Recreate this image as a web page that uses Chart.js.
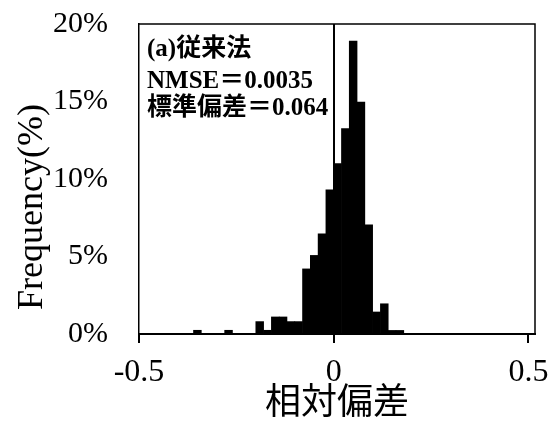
<!DOCTYPE html>
<html>
<head>
<meta charset="utf-8">
<script src="https://cdn.jsdelivr.net/npm/chart.js@4/dist/chart.umd.min.js"></script>
<style>
  html, body { margin: 0; padding: 0; background: #fff; }
  #wrap { width: 548px; height: 426px; }
</style>
</head>
<body>
<div id="wrap"><canvas id="c" width="548" height="426"></canvas></div>
<script>
// Histogram of relative deviation, bins of width 0.02 (centre values)
const binCenters = [-0.35, -0.33, -0.31, -0.29, -0.27, -0.25, -0.23, -0.21, -0.19, -0.17,
                    -0.15, -0.13, -0.11, -0.09, -0.07, -0.05, -0.03, -0.01,
                     0.01,  0.03,  0.05,  0.07,  0.09,  0.11,  0.13,  0.15,  0.17];
// Frequency in percent for each bin
const frequency = [0.24, 0, 0, 0, 0.24, 0, 0, 0, 0.8, 0.24,
                   1.1, 1.1, 0.8, 0.8, 4.2, 5.07, 6.47, 9.3,
                   11.0, 13.25, 18.9, 14.97, 7.05, 1.42, 1.95, 0.23, 0.23];
const xTicks = [-0.5, 0, 0.5];
const yTicks = [0, 5, 10, 15, 20];
const xTitle = '相対偏差';
const yTitle = 'Frequency(%)';
const noteLines = ['(a)従来法', 'NMSE＝0.0035', '標準偏差＝0.064'];

const SERIF = '"Liberation Serif", "Times New Roman", serif';
const CJK = '"Noto Sans CJK JP", "Noto Sans CJK SC", sans-serif';

// Frame (top/right edges), rotated y title and the note block
const decorations = {
  id: 'decorations',
  afterDraw(chart) {
    const { ctx, chartArea: a } = chart;
    ctx.save();
    ctx.strokeStyle = '#000';
    ctx.lineWidth = 1.5;
    ctx.beginPath();
    ctx.moveTo(a.left, a.top);
    ctx.lineTo(a.right, a.top);
    ctx.lineTo(a.right, a.bottom);
    ctx.stroke();

    // y axis title
    ctx.fillStyle = '#000';
    ctx.font = '36px ' + SERIF;
    ctx.textAlign = 'center';
    ctx.textBaseline = 'middle';
    ctx.translate(33, (a.top + a.bottom) / 2 + 28);
    ctx.rotate(-Math.PI / 2);
    ctx.fillText(yTitle, 0, 0);
    ctx.restore();

    // note block in the upper-left corner
    ctx.save();
    ctx.fillStyle = '#000';
    ctx.font = 'bold 25px ' + SERIF + ', ' + CJK;
    ctx.textAlign = 'left';
    ctx.textBaseline = 'alphabetic';
    const offsets = [32, 64, 91];
    noteLines.forEach((t, i) => ctx.fillText(t, a.left + 8, a.top + offsets[i]));
    ctx.restore();
  }
};

new Chart(document.getElementById('c'), {
  type: 'bar',
  data: {
    datasets: [{
      data: binCenters.map((x, i) => ({ x: x, y: frequency[i] })),
      backgroundColor: '#000',
      borderWidth: 0,
      barPercentage: 1,
      categoryPercentage: 1
    }]
  },
  options: {
    responsive: false,
    animation: false,
    devicePixelRatio: 1,
    layout: { padding: { top: 24, right: 13, left: 0, bottom: 0 } },
    plugins: { legend: { display: false }, tooltip: { enabled: false } },
    scales: {
      x: {
        type: 'linear',
        min: -0.5,
        max: 0.517,
        offset: false,
        afterBuildTicks: s => { s.ticks = xTicks.map(v => ({ value: v })); },
        afterFit: s => { s.height = 92; s.paddingLeft = 0; s.paddingRight = 0; },
        ticks: {
          color: '#000',
          font: { family: SERIF, size: 32 },
          padding: 10,
          maxRotation: 0,
          autoSkip: false,
          callback: v => String(v)
        },
        grid: {
          offset: false,
          color: c => (c.tick && c.tick.value === 0 ? '#000' : 'rgba(0,0,0,0)'),
          lineWidth: 2,
          drawTicks: true,
          tickLength: 9,
          tickColor: '#000',
          tickWidth: 2
        },
        border: { display: true, color: '#000', width: 2 },
        title: {
          display: true,
          text: xTitle,
          color: '#000',
          font: { family: CJK, size: 36 },
          padding: { top: 0, bottom: 4 }
        }
      },
      y: {
        min: 0,
        max: 20,
        afterBuildTicks: s => { s.ticks = yTicks.map(v => ({ value: v })); },
        afterFit: s => { s.width = 139; s.paddingTop = 0; s.paddingBottom = 0; },
        ticks: {
          color: '#000',
          font: { family: SERIF, size: 30 },
          padding: 31,
          callback: v => v + '%'
        },
        grid: { display: false, drawTicks: false },
        border: { display: true, color: '#000', width: 1.5 }
      }
    }
  },
  plugins: [decorations]
});
</script>
</body>
</html>
